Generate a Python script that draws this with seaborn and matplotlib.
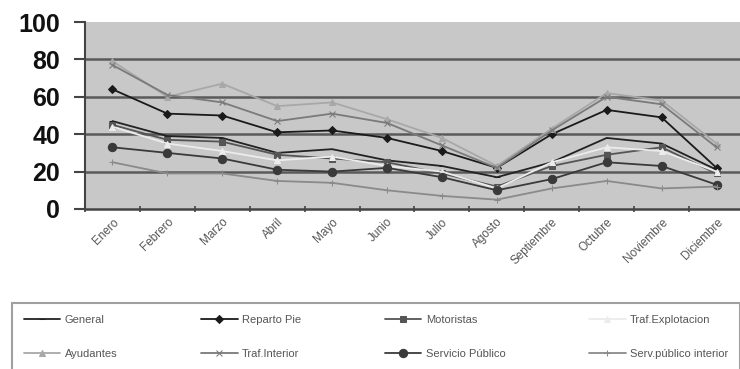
import pandas as pd
import matplotlib
matplotlib.use("Agg")
import matplotlib.pyplot as plt
import seaborn as sns

# months on the category axis
meses = ["Enero", "Febrero", "Marzo", "Abril", "Mayo", "Junio", "Julio",
         "Agosto", "Septiembre", "Octubre", "Noviembre", "Diciembre"]

# values (percent)
general = [47, 39, 38, 30, 32, 26, 23, 17, 25, 38, 35, 21]
reparto_pie = [64, 51, 50, 41, 42, 38, 31, 22, 40, 53, 49, 22]
motoristas = [45, 37, 36, 29, 27, 25, 19, 12, 23, 29, 33, 19]
traf_explotacion = [44, 35, 31, 26, 28, 23, 20, 11, 25, 33, 31, 20]
ayudantes = [79, 60, 67, 55, 57, 48, 38, 23, 43, 62, 58, 35]
traf_interior = [77, 61, 57, 47, 51, 46, 34, 22, 42, 60, 56, 33]
servicio_publico = [33, 30, 27, 21, 20, 22, 17, 10, 16, 25, 23, 13]
serv_publico_interior = [25, 19, 19, 15, 14, 10, 7, 5, 11, 15, 11, 12]

series = {
    "General": general,
    "Reparto Pie": reparto_pie,
    "Motoristas": motoristas,
    "Traf.Explotacion": traf_explotacion,
    "Ayudantes": ayudantes,
    "Traf.Interior": traf_interior,
    "Servicio Público": servicio_publico,
    "Serv.público interior": serv_publico_interior,
}
colores = ["#222222", "#1a1a1a", "#555555", "#ececec",
           "#a8a8a8", "#7a7a7a", "#3a3a3a", "#8a8a8a"]
marcas = ["_", "D", "s", "^", "^", "x", "o", "+"]
tam = [5, 4, 5, 5, 5, 5, 6, 5]

df = pd.DataFrame({"mes": meses * len(series),
                   "serie": [s for s in series for _ in meses],
                   "valor": [v for s in series.values() for v in s]})

sns.set_theme(style="white")
plt.rcParams["font.family"] = ["Liberation Sans", "DejaVu Sans"]

fig = plt.figure(figsize=(7.4, 3.69), dpi=100)
ax = fig.add_axes([85 / 740, 1 - 209 / 369, 659 / 740, 187 / 369])
ax.set_facecolor("#c8c8c8")

for i, nombre in enumerate(series):
    sns.lineplot(data=df[df["serie"] == nombre], x="mes", y="valor",
                 color=colores[i], marker=marcas[i], markersize=tam[i],
                 markeredgecolor=colores[i], linewidth=1.3, sort=False,
                 label=nombre, ax=ax, legend=False)

ax.set_ylim(0, 100)
ax.set_xlim(-0.5, 11.5)
ax.set_yticks([0, 20, 40, 60, 80, 100])
for y in [20, 40, 60, 80]:
    ax.axhline(y, color="#5a5a5a", linewidth=1.8, zorder=0.5)
ax.tick_params(axis="y", labelsize=18, length=8, width=1.5, color="#444444",
               direction="out", pad=10, left=True, labelcolor="#111111")
for t in ax.get_yticklabels():
    t.set_fontweight("bold")

ax.set_xticks(range(len(meses)))
ax.set_xticklabels(meses, rotation=45, ha="right", rotation_mode="anchor",
                   fontsize=8.5, color="#555555")
ax.tick_params(axis="x", length=0, pad=5)
ax.set_xticks([i - 0.5 for i in range(len(meses) + 1)], minor=True)
ax.tick_params(axis="x", which="minor", length=4, width=1.2, direction="inout",
               color="#444444", bottom=True)

ax.set_xlabel("")
ax.set_ylabel("")
for lado in ["top", "right"]:
    ax.spines[lado].set_visible(False)
ax.spines["left"].set_color("#444444")
ax.spines["left"].set_linewidth(1.5)
ax.spines["bottom"].set_color("#444444")
ax.spines["bottom"].set_linewidth(1.8)

# legend filled column by column: reorder so rows read like the original
handles, labels = ax.get_legend_handles_labels()
orden = [0, 4, 1, 5, 2, 6, 3, 7]
leg = fig.legend([handles[i] for i in orden], [labels[i] for i in orden],
                 loc="upper left", ncol=4, mode="expand",
                 bbox_to_anchor=(6 / 740, 0, 740 / 740, 1 - 297 / 369),
                 fontsize=8, frameon=True, fancybox=False, borderpad=1.1,
                 labelspacing=2.2, handlelength=3.3, handletextpad=0.4,
                 labelcolor="#555555")
leg.get_frame().set_edgecolor("#888888")
leg.get_frame().set_linewidth(1.5)

fig.savefig("out.png", dpi=100)
